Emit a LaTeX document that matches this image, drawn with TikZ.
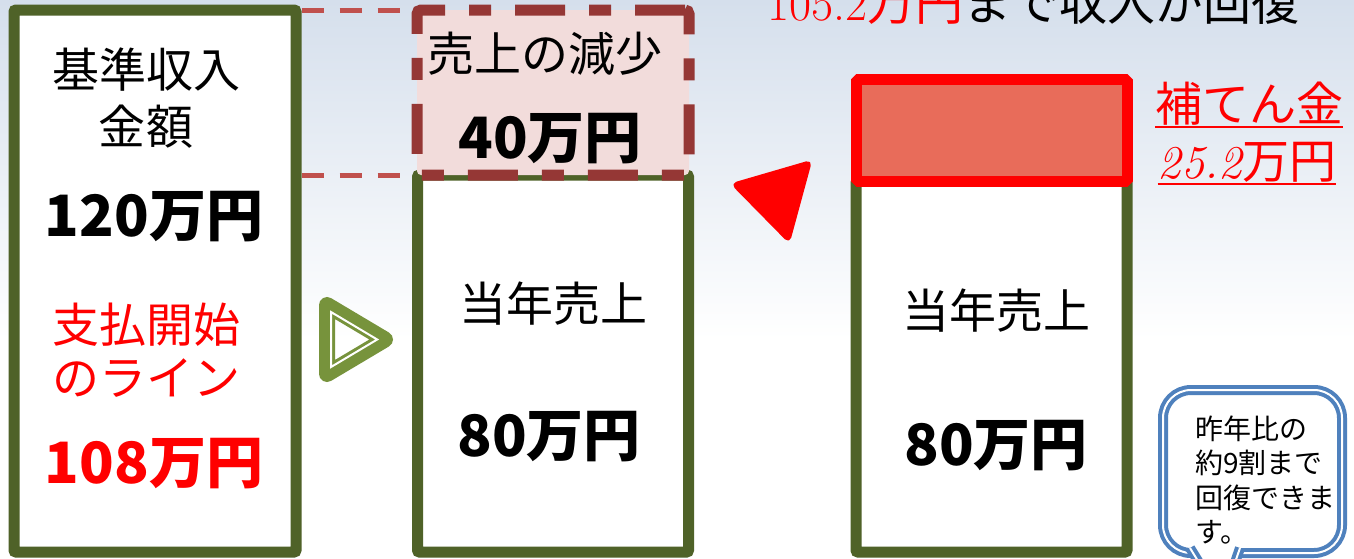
\documentclass[tikz,border=0pt]{standalone}
\usepackage{fontspec}
\newfontfamily\jp{Noto Sans CJK JP}
\usepackage{tikz}
\usetikzlibrary{positioning}
\usetikzlibrary{calc}

\definecolor{olivebox}{HTML}{4F6228}
\definecolor{olivearrow}{HTML}{77933C}
\definecolor{lossedge}{HTML}{953735}
\definecolor{lossfill}{HTML}{F2DCDB}
\definecolor{guidered}{HTML}{C0504D}
\definecolor{compfill}{HTML}{E86C5A}
\definecolor{noteblue}{HTML}{4F81BD}
\definecolor{bgtop}{HTML}{D5DFEC}

\newcommand{\ulred}[1]{\vtop{\hbox{#1}\kern1pt\hrule height 2.5pt}}

\begin{document}
\begin{tikzpicture}[x=1pt,y=-1pt,
block/.style={draw=olivebox,line width=11pt,fill=white,rectangle,rounded corners=2pt,inner sep=0pt,outer sep=0pt},
lossbox/.style={draw=lossedge,fill=lossfill,line width=11pt,rectangle,rounded corners=4pt,
  dash pattern=on 50pt off 24pt on 22pt off 24pt,inner sep=0pt,outer sep=0pt},
compbox/.style={draw=red,fill=compfill,line width=11pt,rectangle,line join=bevel,inner sep=0pt,outer sep=0pt},
guide/.style={draw=guidered,line width=5pt,dash pattern=on 22pt off 16pt,shorten <=5.5pt,shorten >=5.5pt},
txt/.style={font=\jp\fontsize{47}{53}\selectfont,align=center,inner sep=0pt},
num/.style={font=\jp\bfseries\fontsize{57}{60}\selectfont,inner sep=0pt},
callout/.style={draw=noteblue,fill=white,line width=4pt,double=white,double distance=2pt,
  rectangle,rounded corners=28pt,inner sep=0pt},
notetxt/.style={font=\jp\fontsize{28}{34.5}\selectfont,align=left,inner sep=0pt}]

\useasboundingbox (0,0) rectangle (1354,558);
\clip (0,0) rectangle (1354,558);

% háttér
\shade[top color=bgtop,bottom color=white] (0,0) rectangle (1354,340);
\fill[white] (0,340) rectangle (1354,558);

% nagy blokkok
\node[block, minimum width=282pt, minimum height=542pt] (base) at (155,281) {};
\node[block, minimum width=271pt, minimum height=377pt] (now) at (553,363.5) {};
\node[lossbox, minimum width=272pt, minimum height=165pt] (loss) at (553,92.5) {};

% szaggatott vonalak
\draw[guide] (base.north east) -- (loss.north west);
\draw[guide] (base.east |- loss.south west) -- (loss.south west);

\node[block, minimum width=271pt, minimum height=371pt] (nowb) at (991.5,366.5) {};
\node[compbox, minimum width=271pt, minimum height=102pt] (comp) at (991.5,130) {};

% nyilak
\draw[draw=olivearrow,line width=16pt,line join=round] (327,305) -- (385,339.5) -- (327,374) -- cycle;
\draw[draw=white,line width=2pt,line join=miter] (331,312) -- (377.2,339.5) -- (331,367) -- cycle;
\draw[draw=red,fill=red,line width=2pt,line join=round,rounded corners=5pt]
  (811,161) -- (732,184) -- (789,242) -- cycle;

% szövegek
\node[anchor=base west,inner sep=0pt,font=\jp\fontsize{48}{50}\selectfont] (headline) at (767,20)
  {\textcolor{red}{{\rmfamily 105.2}万円}まで収入が回復};

\node[txt] (basetitle) at (146,98) {基準収入\\[4pt]金額};
\node[num] (basevalue) at (154,217) {120万円};
\node[txt,text=red] (linetitle) at (146,350) {支払開始\\のライン};
\node[num,text=red] (linevalue) at (154,464) {108万円};

\node[txt] (losstitle) at (545,54) {売上の減少};
\node[num] (lossvalue) at (550,139) {40万円};
\node[txt] (nowtitle) at (553,304) {当年売上};
\node[num] (nowvalue) at (549,437) {80万円};
\node[txt] (nowbtitle) at (996,311) {当年売上};
\node[num] (nowbvalue) at (996,446) {80万円};

\node[txt,text=red,anchor=base] (comptitle) at (1249,121) {\ulred{補てん金}};
\node[txt,text=red,anchor=base] (compvalue) at (1247,178) {\ulred{{\rmfamily\itshape 25.2}万円}};

% buborék
\node[callout, minimum width=179pt, minimum height=163pt] (note) at (1252.5,471.5) {};
\path[fill=white,draw=noteblue,line width=4pt,double=white,double distance=2pt]
  (1190,548) -- (1222,600) -- (1240,548);
\node[notetxt, anchor=west] (notetext) at (1195,480) {昨年比の\\約9割まで\\回復できま\\す。};
\end{tikzpicture}
\end{document}
